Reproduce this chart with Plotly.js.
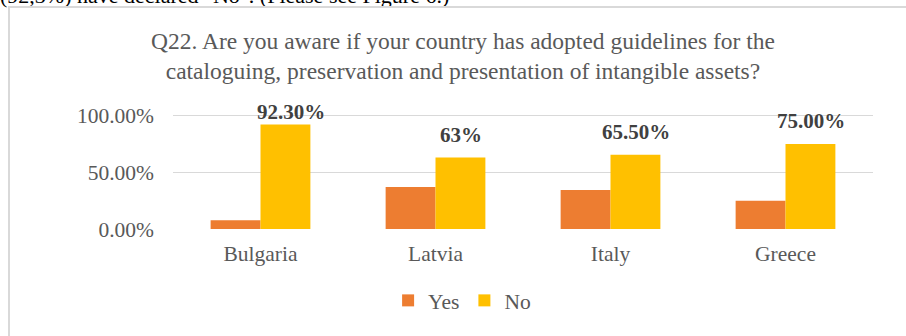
<!DOCTYPE html>
<html>
<head>
<meta charset="utf-8">
<script src="https://cdn.plot.ly/plotly-3.0.1.min.js"></script>
<style>
html,body{margin:0;padding:0;background:#fff;overflow:hidden;}
#wrap{position:relative;width:906px;height:336px;overflow:hidden;}
#chart{position:absolute;left:0;top:0;width:906px;height:336px;}
#frameTop{position:absolute;left:8px;top:6px;width:898px;height:0;border-top:2px solid #d9d9d9;}
#frameLeft{position:absolute;left:8px;top:6px;width:0;height:330px;border-left:2px solid #d9d9d9;}
#doc{position:absolute;left:0;top:-17px;font-family:"Liberation Serif","Times New Roman",serif;font-size:22px;color:#000;white-space:nowrap;}
</style>
</head>
<body>
<div id="wrap">
<div id="doc">(92,3%) have declared "No". (Please see Figure 6.)</div>
<div id="frameTop"></div>
<div id="frameLeft"></div>
<div id="chart"></div>
</div>
<script>
const categories = ["Bulgaria", "Latvia", "Italy", "Greece"];
const yesValues = [0.077, 0.37, 0.345, 0.25];
const noValues = [0.923, 0.63, 0.655, 0.75];
const noLabels = ["92.30%", "63%", "65.50%", "75.00%"];
const titleText = "Q22. Are you aware if your country has adopted guidelines for the<br>cataloguing, preservation and presentation of intangible assets?";

const serif = '"Liberation Serif", "Times New Roman", serif';
const grey = '#595959';

const traces = [
  {type: 'bar', name: 'Yes', x: categories, y: yesValues, marker: {color: '#ED7D31'}, hoverinfo: 'none'},
  {type: 'bar', name: 'No', x: categories, y: noValues, marker: {color: '#FFC000'}, hoverinfo: 'none'}
];

const labelYShift = [12, 23, 23, 23];
const labelXShift = [30, 25, 25, 25];
const annotations = categories.map((c, i) => ({
  x: c, y: noValues[i], xref: 'x', yref: 'y',
  text: '<b>' + noLabels[i] + '</b>', showarrow: false,
  xanchor: 'center', yanchor: 'middle',
  xshift: labelXShift[i], yshift: labelYShift[i],
  font: {family: serif, size: 21, color: '#404040'}
}));

const layout = {
  width: 906, height: 336,
  paper_bgcolor: 'rgba(0,0,0,0)', plot_bgcolor: 'rgba(0,0,0,0)',
  margin: {l: 173, r: 33, t: 93, b: 107},
  title: {text: titleText, x: 0.511, xanchor: 'center', y: 0.855, yanchor: 'top',
          font: {family: serif, size: 23.5, color: grey}},
  barmode: 'group', bargap: 0.43, bargroupgap: 0,
  xaxis: {tickfont: {family: serif, size: 21.5, color: grey}, showgrid: false, zeroline: false,
          showline: false, ticks: '', ticklabelstandoff: 9},
  yaxis: {range: [0, 1.2], tickvals: [0, 0.5, 1], tickformat: '.2%',
          tickfont: {family: serif, size: 21.5, color: grey},
          showgrid: true, gridcolor: '#d9d9d9', gridwidth: 1.5,
          zeroline: false, showline: false, ticks: '', ticklabelstandoff: 18},
  showlegend: true,
  legend: {orientation: 'h', x: 0.413, xanchor: 'center', y: -0.525, yanchor: 'middle',
           font: {family: serif, size: 21.5, color: grey}, itemwidth: 30, tracegroupgap: 0},
  annotations: annotations
};

Plotly.newPlot('chart', traces, layout, {displayModeBar: false, staticPlot: true});
</script>
</body>
</html>
